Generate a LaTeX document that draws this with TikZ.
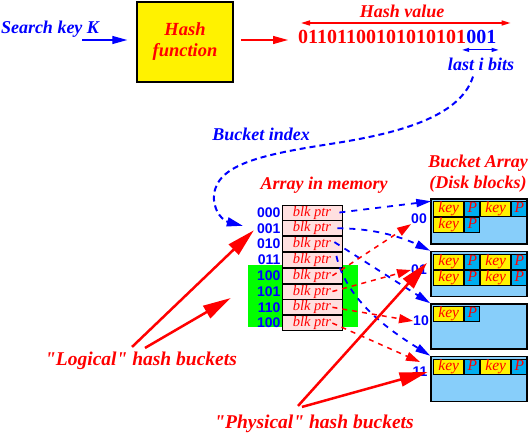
\documentclass[tikz,border=0pt]{standalone}
\usepackage{fontspec}
\setmainfont{Liberation Serif}
\setsansfont{Liberation Sans}
\usetikzlibrary{positioning,calc,arrows.meta}

\definecolor{pinkcell}{RGB}{255,224,224}
\definecolor{bucketblue}{RGB}{135,206,250}

\begin{document}
\begin{tikzpicture}[x=1pt, y=-1pt,
  title/.style={font=\fontsize{18}{21}\selectfont\bfseries\itshape, inner sep=0pt, align=center},
  bigtitle/.style={font=\fontsize{19.5}{22}\selectfont\bfseries\itshape, inner sep=0pt, text=red},
  bits/.style={font=\fontsize{20}{22}\selectfont\bfseries, inner sep=0pt, anchor=base west},
  ptrbox/.style={rectangle, draw, line width=0.8pt, fill=pinkcell, minimum width=60pt, minimum height=15pt, inner sep=0pt, text height=10pt, text depth=3pt, text=red, font=\fontsize{14.5}{15}\selectfont\itshape},
  rowlabel/.style={inner sep=0pt, text=blue, font=\fontsize{14}{14}\selectfont\sffamily\bfseries},
  bucket/.style={rectangle, draw, line width=1.5pt, fill=bucketblue, minimum width=96pt, minimum height=45pt},
  keycell/.style={rectangle, draw, line width=1pt, fill=yellow, minimum width=30pt, minimum height=15pt, inner sep=0pt, text height=10pt, text depth=3pt, text=red, font=\fontsize{15.5}{16}\selectfont\itshape},
  pcell/.style={keycell, fill=cyan, minimum width=15pt},
  bluelink/.style={blue, line width=1.8pt, dash pattern=on 6pt off 6pt, -{Triangle[length=15pt,width=8pt]}},
  redlink/.style={red, line width=1.5pt, dash pattern=on 5pt off 5pt, -{Triangle[length=14pt,width=9pt]}},
  bigarrow/.style={red, line width=2.5pt, -{Triangle[length=28pt,width=14pt]}}
]

\useasboundingbox (0,0) rectangle (530,436);

% Search key and hash function
\node (searchkey) [title, text=blue] at (50,29) {Search key K};
\node (hashfn) [rectangle, draw, line width=1.5pt, fill=yellow, minimum width=96pt, minimum height=80pt, title, text=red, font=\fontsize{18.5}{21}\selectfont\bfseries\itshape] at (185,42) {Hash\\function};

% Hash value bits, the last ones in blue
\node (bitshigh) [bits, text=red] at (298,43.5) {01101100101010101};
\node (bitslow) [bits, text=blue] at (bitshigh.base east) {001};
\node (hashvalue) [title, text=red] at (402,11) {Hash value};
\node (lastbits) [title, text=blue] at (481,64) {last i bits};

% Labels above the arrays
\node (bucketindex) [title, text=blue] at (261,134) {Bucket index};
\node (arraylabel) [title, text=red] at (324,185) {Array in memory};
\node (bucketlabel) [title, text=red] at (478,174) {Bucket Array\\(Disk blocks)};

% Green area behind the upper half of the array
\node (green) [rectangle, fill=green, minimum width=110pt, minimum height=62pt, inner sep=0pt] at (303,296) {};

% Array in memory
\node (ptr0) [ptrbox] at (312,212.5) {blk ptr};
\node (ptr1) [ptrbox, below=0pt of ptr0] {blk ptr};
\node (ptr2) [ptrbox, below=0pt of ptr1] {blk ptr};
\node (ptr3) [ptrbox, below=0pt of ptr2] {blk ptr};
\node (ptr4) [ptrbox, below=0pt of ptr3] {blk ptr};
\node (ptr5) [ptrbox, below=0pt of ptr4] {blk ptr};
\node (ptr6) [ptrbox, below=0pt of ptr5] {blk ptr};
\node (ptr7) [ptrbox, below=0pt of ptr6] {blk ptr};

% Index of each array slot
\node (lab0) [rowlabel, left=1pt of ptr0] {000};
\node (lab1) [rowlabel, left=1pt of ptr1] {001};
\node (lab2) [rowlabel, left=1pt of ptr2] {010};
\node (lab3) [rowlabel, left=1pt of ptr3] {011};
\node (lab4) [rowlabel, left=1pt of ptr4] {100};
\node (lab5) [rowlabel, left=1pt of ptr5] {101};
\node (lab6) [rowlabel, left=1pt of ptr6] {110};
\node (lab7) [rowlabel, left=1pt of ptr7] {100};

% Bucket array (disk blocks)
\node (bucket0) [bucket] at (479,221.5) {};
\node (bucket1) [bucket, below=6pt of bucket0] {};
\node (bucket2) [bucket, below=6pt of bucket1] {};
\node (bucket3) [bucket, below=6pt of bucket2] {};

% Records of bucket 00
\node (k0a) [keycell, below right=3pt and 3pt of bucket0.north west] {key};
\node (p0a) [pcell, right=0pt of k0a] {P};
\node (k0b) [keycell, right=0pt of p0a] {key};
\node (p0b) [pcell, right=0pt of k0b] {P};
\node (k0c) [keycell, below=0pt of k0a] {key};
\node (p0c) [pcell, right=0pt of k0c] {P};

% Records of bucket 01
\node (k1a) [keycell, below right=3pt and 3pt of bucket1.north west] {key};
\node (p1a) [pcell, right=0pt of k1a] {P};
\node (k1b) [keycell, right=0pt of p1a] {key};
\node (p1b) [pcell, right=0pt of k1b] {P};
\node (k1c) [keycell, below=0pt of k1a] {key};
\node (p1c) [pcell, right=0pt of k1c] {P};
\node (k1d) [keycell, right=0pt of p1c] {key};
\node (p1d) [pcell, right=0pt of k1d] {P};

% Records of bucket 10
\node (k2a) [keycell, below right=3pt and 3pt of bucket2.north west] {key};
\node (p2a) [pcell, right=0pt of k2a] {P};

% Records of bucket 11
\node (k3a) [keycell, below right=3pt and 3pt of bucket3.north west] {key};
\node (p3a) [pcell, right=0pt of k3a] {P};
\node (k3b) [keycell, right=0pt of p3a] {key};
\node (p3b) [pcell, right=0pt of k3b] {P};

% Bucket numbers
\node (lab00) [rowlabel] at (419,219) {00};
\node (lab01) [rowlabel] at (419,270) {01};
\node (lab10) [rowlabel] at (421,321) {10};
\node (lab11) [rowlabel] at (420,372) {11};

% Bottom labels
\node (logical) [bigtitle] at (141,361) {\textquotedbl Logical\textquotedbl{} hash buckets};
\node (physical) [bigtitle] at (314,424) {\textquotedbl Physical\textquotedbl{} hash buckets};

% Arrows
\draw[blue, line width=1.2pt, -{Triangle[length=15pt,width=8pt]}] ($(searchkey.east |- hashfn.west)+(-17,-2)$) -- ($(hashfn.west)+(-9,-2)$);
\draw[red, line width=1.2pt, -{Triangle[length=15pt,width=8pt]}] ($(hashfn.east)+(7,-2)$) -- ($(hashfn.east -| bitshigh.west)+(-10,-2)$);
\draw[red, line width=1.5pt, {Triangle[length=9pt,width=5pt]}-{Triangle[length=9pt,width=5pt]}] ($(bitshigh.north west)+(3,-7)$) -- ($(bitslow.north east)+(14,-7)$);
\draw[blue, line width=1pt, {Triangle[length=7pt,width=4pt]}-{Triangle[length=7pt,width=4pt]}] ($(bitslow.south west)+(-4,6)$) -- ($(bitslow.south east)+(2,6)$);
\draw[blue, line width=2pt, dash pattern=on 6pt off 4pt, -{Triangle[length=16pt,width=9pt]}] ($(lastbits.south)+(-8,6)$) .. controls (460,118) and (395,134) .. (330,144) .. controls (260,155) and (212,165) .. (214,200) .. controls (216,218) and (228,222) .. ($(lab1.west)+(-14,-2.5)$);

% Array slots to buckets
\draw[bluelink] ($(ptr0.east)+(-3,0)$) -- ($(bucket0.north west)+(1,3)$);
\draw[bluelink] ($(ptr1.east)+(-5,0)$) .. controls +(40,0) and +(-25,-12) .. (bucket1.north west);
\draw[bluelink] ($(ptr2.east)+(-8,-2)$) -- (bucket2.north west);
\draw[bluelink] ($(ptr3.east)+(-6,-4)$) .. controls +(10,45) and +(-40,-25) .. (bucket3.north west);
\draw[redlink] ($(ptr4.east)+(-10,0)$) -- (lab00.south west);
\draw[redlink] ($(ptr5.east)+(-10,0)$) -- (lab01.west);
\draw[redlink] ($(ptr6.east)+(-10,0)$) -- (lab10.west);
\draw[redlink] ($(ptr7.east)+(-10,0)$) -- ($(lab11.north)+(0,-5)$);

% Logical and physical buckets
\draw[bigarrow] ($(logical.north)+(-9,-5)$) -- ($(lab1.west)+(-3,2)$);
\draw[bigarrow] ($(logical.north)+(4,-4)$) -- ($(green.west)+(-17,2)$);
\draw[bigarrow] ($(physical.north)+(-16,-9)$) -- ($(lab01.north east)+(0,-2)$);
\draw[bigarrow] ($(physical.north)+(-12,-8)$) -- (lab11.east);

\end{tikzpicture}
\end{document}
